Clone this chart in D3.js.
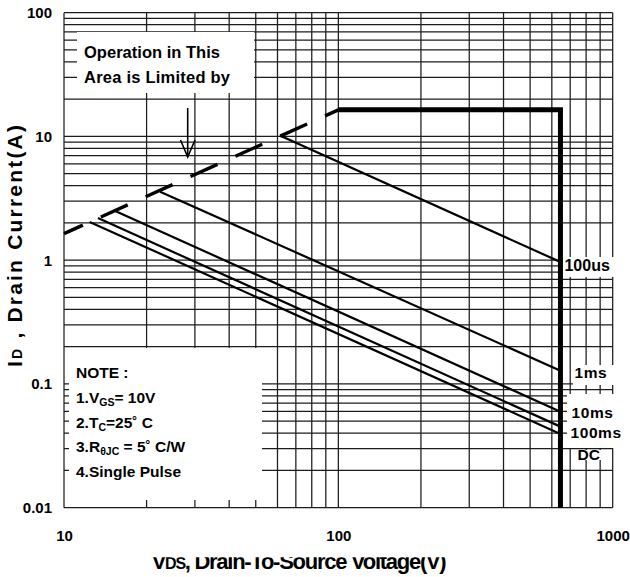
<!DOCTYPE html>
<html><head><meta charset="utf-8">
<script src="https://cdn.jsdelivr.net/npm/d3@7"></script>
<style>
body{margin:0;background:#fff}
svg{display:block}
text{font-family:"Liberation Sans",Arial,sans-serif;font-weight:bold;fill:#000}
</style>
</head><body><svg id="c" width="630" height="577"></svg>
<script>
// ---- data ----
const xTicks = [10, 100, 1000];
const yTicks = [0.01, 0.1, 1, 10, 100];
const yTickLabels = ["0.01", "0.1", "1", "10", "100"];
const seriesNames = ["100us", "1ms", "10ms", "100ms", "DC"];
const seriesStartV = [61.2, 22.4, 15.3, 13.3, 12.4];
const seriesStartI = [10.2, 3.58, 2.51, 2.19, 2.04];
const seriesEndV = [645, 645, 645, 645, 645];
const seriesEndI = [0.967, 0.128, 0.0597, 0.0452, 0.0394];
const rdsLimitV = [10, 100];
const rdsLimitI = [1.64, 16.4];
const boundaryV = [100, 645, 645];
const boundaryI = [16.4, 16.4, 0.01];
const labelI = [0.823, 0.111, 0.0528, 0.0364, 0.0243];
const noteLines = ["NOTE :", "1.V|GS|= 10V", "2.T|C|=25\u02da C", "3.R|\u03b8JC| = 5\u02da C/W", "4.Single Pulse"];

// ---- scales ----
const svg = d3.select("#c");
const x = d3.scaleLog().domain([10, 1000]).range([64, 612.7]);
const y = d3.scaleLog().domain([0.01, 100]).range([507.7, 12.7]);

// grid values
const vGrid = [];
[10, 100].forEach(d => { for (let k = 1; k <= 9; k++) vGrid.push(d * k); });
vGrid.push(1000);
const hGrid = [];
[0.01, 0.1, 1, 10].forEach(d => { for (let k = 1; k <= 9; k++) hGrid.push(+(d * k).toPrecision(3)); });
hGrid.push(100);

const grid = svg.append("g").attr("stroke", "#1c1c1c").attr("stroke-width", 1.25);
grid.selectAll("line.v").data(vGrid).join("line").attr("class", "v")
  .attr("x1", d => x(d)).attr("x2", d => x(d)).attr("y1", y(100)).attr("y2", y(0.01));
grid.selectAll("line.h").data(hGrid).join("line").attr("class", "h")
  .attr("y1", d => y(d)).attr("y2", d => y(d)).attr("x1", x(10)).attr("x2", x(1000));

// white boxes over grid (annotation areas)
const boxes = [
  [77, 32, 177, 61],    // "Operation in This" box
  [69, 348, 193, 152],  // NOTE box
  [563, 257, 52, 20],   // 100us
  [573, 365, 42, 20],   // 1ms
  [576, 450, 30, 10]    // DC
];
svg.append("g").selectAll("rect").data(boxes).join("rect")
  .attr("x", d => d[0]).attr("y", d => d[1]).attr("width", d => d[2]).attr("height", d => d[3])
  .attr("fill", "#fff");

// DC label (partly hidden by the box above)
const lblX = [x(645) + 4, x(645) + 14, x(645) + 11, x(645) + 10, x(645) + 17];
const lblSize = [16, 15.5, 15.5, 15.5, 15.5];
svg.append("text").attr("x", lblX[4]).attr("y", y(labelI[4])).attr("font-size", lblSize[4])
  .text(seriesNames[4]);
svg.append("rect").attr("x", 567).attr("y", 394).attr("width", 48).attr("height", 54).attr("fill", "#fff");

// series lines
const lineG = svg.append("g").attr("stroke", "#000").attr("fill", "none");
seriesNames.forEach((n, i) => {
  lineG.append("line")
    .attr("x1", x(seriesStartV[i])).attr("y1", y(seriesStartI[i]))
    .attr("x2", x(seriesEndV[i])).attr("y2", y(seriesEndI[i]))
    .attr("stroke-width", 2.2);
});

// Rds(on) dashed limit
const lg = d3.line().x(d => x(d[0])).y(d => y(d[1]));
lineG.append("path").attr("d", lg(rdsLimitV.map((v, i) => [v, rdsLimitI[i]])))
  .attr("stroke-width", 3.4).attr("stroke-dasharray", "29.5,19.7").attr("stroke-dashoffset", 8.8);

// boundary
lineG.append("path").attr("d", lg(boundaryV.map((v, i) => [v, boundaryI[i]])))
  .attr("stroke-width", 5).attr("stroke-linejoin", "miter");

// series labels
seriesNames.forEach((n, i) => {
  if (i === 4) return;
  svg.append("text").attr("x", lblX[i]).attr("y", y(labelI[i])).attr("font-size", lblSize[i])
    .attr("letter-spacing", i === 0 ? 0 : 0.6).text(n);
});

// axis tick labels
svg.append("g").selectAll("text").data(yTicks).join("text")
  .attr("x", 52).attr("y", d => y(d) + 5.5).attr("text-anchor", "end").attr("font-size", 15)
  .text((d, i) => yTickLabels[i]);
svg.append("g").selectAll("text").data(xTicks).join("text")
  .attr("x", d => x(d) + 0.5).attr("y", 540.7).attr("text-anchor", "middle").attr("font-size", 15)
  .text(d => d3.format("d")(d));

// annotation
svg.append("text").attr("x", 84).attr("y", 58.3).attr("font-size", 16.5).attr("textLength", 136).text("Operation in This");
svg.append("text").attr("x", 84).attr("y", 82.7).attr("font-size", 16.5).attr("textLength", 146).text("Area is Limited by");
svg.append("line").attr("x1", 187.7).attr("x2", 187.7).attr("y1", 108).attr("y2", 157)
  .attr("stroke", "#000").attr("stroke-width", 1.6);
svg.append("path").attr("d", "M180.5,140 L187.7,157 L195,140").attr("fill", "none")
  .attr("stroke", "#000").attr("stroke-width", 1.6);

// NOTE block
noteLines.forEach((s, i) => {
  const t = svg.append("text").attr("x", 76).attr("y", 378.3 + i * 24.6).attr("font-size", 15.5);
  const parts = s.split("|");
  parts.forEach((p, j) => {
    const ts = t.append("tspan").text(p);
    if (j % 2 === 1) ts.attr("font-size", 10.5).attr("dy", 3);
    else if (j > 0) ts.attr("dy", -3);
  });
});

// y axis title
const yt = svg.append("text").attr("transform", "translate(22,367) rotate(-90)")
  .attr("font-size", 21).attr("textLength", 242).attr("lengthAdjust", "spacing");
yt.append("tspan").text("I");
yt.append("tspan").attr("font-size", 14).attr("dy", 0).text("D");
yt.append("tspan").text(" , Drain Current(A)");

// x axis title (top clipped as in the reference)
svg.append("clipPath").attr("id", "xtclip").append("rect").attr("x", 0).attr("y", 557.2).attr("width", 630).attr("height", 30);
const xt = svg.append("text").attr("clip-path", "url(#xtclip)").attr("x", 151.7).attr("y", 569)
  .attr("font-size", 22).attr("textLength", 295).attr("lengthAdjust", "spacing");
xt.append("tspan").text("V");
xt.append("tspan").attr("font-size", 16).text("DS");
xt.append("tspan").text(", Drain-To-Source Voltage(V)");
</script>
</body></html>
